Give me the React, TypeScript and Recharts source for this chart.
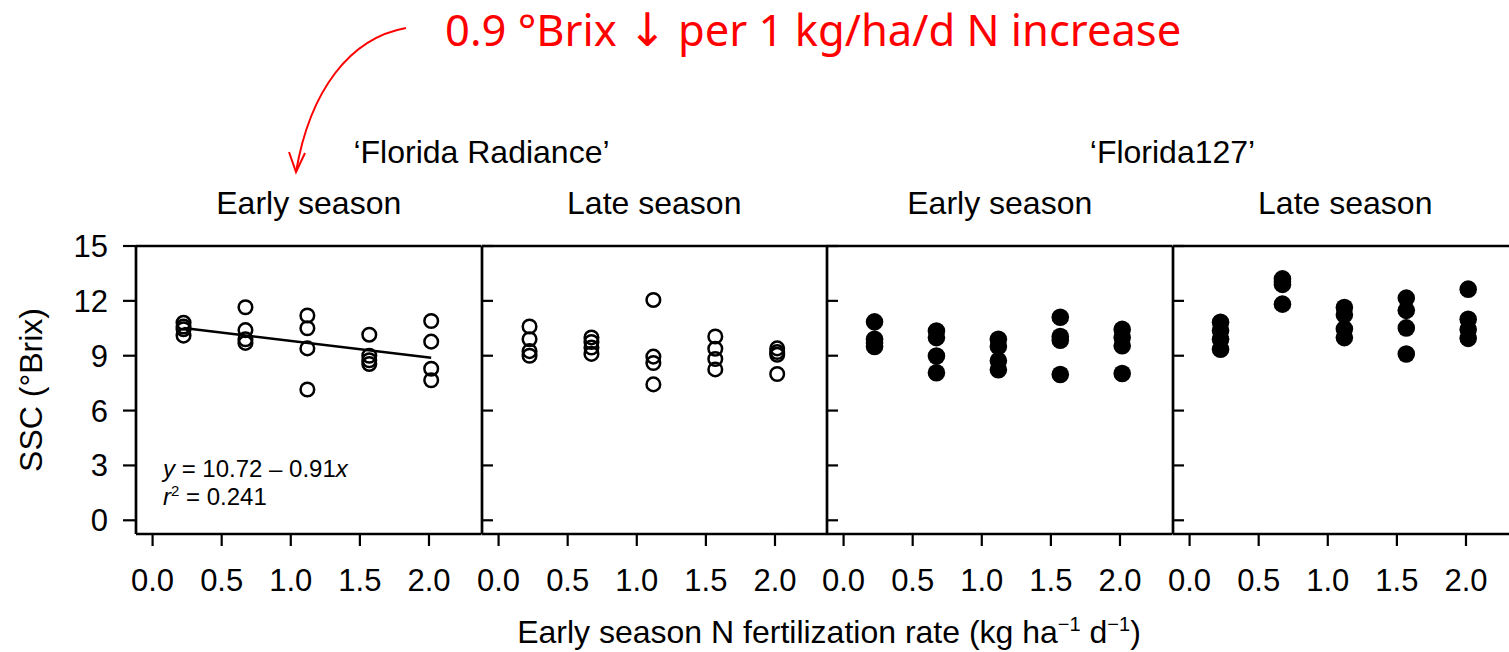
import React from 'react';
import { ScatterChart, Scatter, XAxis, YAxis, ReferenceLine } from 'recharts';

// N rates used in the trial (kg/ha/d)
const nRates = [0.224, 0.672, 1.12, 1.568, 2.016];
const xTicks = [0, 0.5, 1, 1.5, 2];
const yTicks = [0, 3, 6, 9, 12, 15];

// SSC (°Brix), one row per N rate, four reps each
const radianceEarly = [
  [10.8, 10.6, 10.45, 10.1],
  [11.65, 10.4, 9.9, 9.7],
  [11.2, 10.5, 9.4, 7.15],
  [10.15, 9.0, 8.75, 8.55],
  [10.9, 9.77, 8.29, 7.66],
];
const radianceLate = [
  [10.6, 9.9, 9.25, 9.0],
  [10.0, 9.75, 9.45, 9.1],
  [12.05, 8.95, 8.6, 7.43],
  [10.05, 9.38, 8.82, 8.25],
  [9.4, 9.2, 9.05, 8.0],
];
const f127Early = [
  [10.85, 9.9, 9.7, 9.5],
  [10.35, 9.99, 8.98, 8.07],
  [9.9, 9.5, 8.72, 8.23],
  [11.1, 10.05, 9.85, 7.97],
  [10.44, 10.0, 9.55, 8.03],
];
const f127Late = [
  [10.83, 10.38, 9.9, 9.35],
  [13.2, 13.05, 12.9, 11.82],
  [11.64, 11.24, 10.46, 9.99],
  [12.15, 11.48, 10.52, 9.09],
  [12.64, 10.99, 10.44, 9.95],
];

// fitted line for 'Florida Radiance' early season
const fitIntercept = 10.72;
const fitSlope = -0.91;

const FONT = '"Liberation Sans", Arial, sans-serif';
const PLOT_LEFT = 136;
const PANEL_W = 345.5;
const PLOT_TOP = 246;
const X_AXIS_H = 118;
const H = 652;
const Y_DOMAIN = [-0.75, 15];
const FRAME = 2.7;

const toPoints = (rows: number[][]) =>
  rows.flatMap((vals, i) => vals.map((y) => ({ x: nRates[i], y })));

const panels = [
  { season: 'Early season', rows: radianceEarly, filled: false, fit: true },
  { season: 'Late season', rows: radianceLate, filled: false, fit: false },
  { season: 'Early season', rows: f127Early, filled: true, fit: false },
  { season: 'Late season', rows: f127Late, filled: true, fit: false },
];

const XTick = ({ x, y, payload }: any) => (
  <text x={x} y={y + 45} textAnchor="middle" fontSize={31} fontFamily={FONT} fill="#000">
    {Number(payload.value).toFixed(1)}
  </text>
);

const InnerYTick = ({ x, y }: any) => (
  <line x1={x} x2={x + 11} y1={y} y2={y} stroke="#000" strokeWidth={2.2} />
);

const OpenDot = ({ cx, cy }: any) => (
  <circle cx={cx} cy={cy} r={6.8} fill="none" stroke="#000" strokeWidth={2.5} />
);
const FilledDot = ({ cx, cy }: any) => <circle cx={cx} cy={cy} r={8.8} fill="#000" />;

const Panel = ({ index }: { index: number }) => {
  const p = panels[index];
  const first = index === 0;
  const yWidth = first ? PLOT_LEFT : 10;
  const left = first ? 0 : PLOT_LEFT + PANEL_W * index - yWidth;
  const width = yWidth + PANEL_W + 6;
  const x0 = nRates[0];
  const x1 = nRates[nRates.length - 1];
  return (
    <div style={{ position: 'absolute', left, top: 0 }}>
      <ScatterChart
        width={width}
        height={H}
        margin={{ top: PLOT_TOP, right: 6, bottom: 0, left: 0 }}
      >
        <XAxis
          type="number"
          dataKey="x"
          domain={[-0.12, 2.38]}
          allowDataOverflow
          ticks={xTicks}
          interval={0}
          height={X_AXIS_H}
          axisLine={{ stroke: '#000', strokeWidth: FRAME }}
          tickLine={{ stroke: '#000', strokeWidth: 2.2 }}
          tickSize={12}
          tickMargin={0}
          tick={<XTick />}
        />
        {first ? (
          <YAxis
            type="number"
            dataKey="y"
            domain={Y_DOMAIN}
            allowDataOverflow
            ticks={yTicks}
            interval={0}
            width={yWidth}
            axisLine={{ stroke: '#000', strokeWidth: FRAME }}
            tickLine={{ stroke: '#000', strokeWidth: 2.2 }}
            tickSize={13}
            tickMargin={15}
            tick={{ fontSize: 31, fill: '#000', fontFamily: FONT }}
          />
        ) : (
          <YAxis
            type="number"
            dataKey="y"
            domain={Y_DOMAIN}
            allowDataOverflow
            ticks={yTicks}
            interval={0}
            width={yWidth}
            axisLine={{ stroke: '#000', strokeWidth: FRAME }}
            tickLine={false}
            tickSize={0}
            tickMargin={0}
            tick={<InnerYTick />}
          />
        )}
        <ReferenceLine y={15} stroke="#000" strokeWidth={FRAME} ifOverflow="visible" />
        {p.fit && (
          <ReferenceLine
            segment={[
              { x: x0, y: fitIntercept + fitSlope * x0 },
              { x: x1, y: fitIntercept + fitSlope * x1 },
            ]}
            stroke="#000"
            strokeWidth={2.4}
            ifOverflow="visible"
          />
        )}
        <Scatter
          data={toPoints(p.rows)}
          isAnimationActive={false}
          shape={p.filled ? <FilledDot /> : <OpenDot />}
        />
      </ScatterChart>
    </div>
  );
};

export default function App() {
  return (
    <div
      style={{
        position: 'absolute',
        left: 0,
        top: 0,
        width: 1509,
        height: H,
        overflow: 'hidden',
        background: '#fff',
        fontFamily: FONT,
      }}
    >
      {panels.map((_, i) => (
        <Panel key={i} index={i} />
      ))}
      <svg
        width={1509}
        height={H}
        style={{ position: 'absolute', left: 0, top: 0, pointerEvents: 'none' }}
        fontFamily={FONT}
      >
        <text
          x={445}
          y={46}
          fill="#ff0000"
          fontFamily='"Noto Sans", "Open Sans", sans-serif'
          fontSize={43.5}
        >
          0.9 °Brix{' '}
          <tspan fontFamily='"DejaVu Sans", sans-serif' fontSize={46}>↓</tspan> per 1 kg/ha/d N
          increase
        </text>
        <path d="M406,28 C350,38 310,90 296,172" fill="none" stroke="#ff0000" strokeWidth={2} />
        <path d="M289,152 L296,172 L305,153" fill="none" stroke="#ff0000" strokeWidth={2} />

        <text x={PLOT_LEFT + PANEL_W} y={163} textAnchor="middle" fontSize={32}>
          ‘Florida Radiance’
        </text>
        <text x={PLOT_LEFT + PANEL_W * 3} y={163} textAnchor="middle" fontSize={32}>
          ‘Florida127’
        </text>
        {panels.map((p, i) => (
          <text
            key={i}
            x={PLOT_LEFT + PANEL_W * (i + 0.5)}
            y={214}
            textAnchor="middle"
            fontSize={32}
          >
            {p.season}
          </text>
        ))}

        <text x={163} y={477} fontSize={24}>
          <tspan fontStyle="italic">y</tspan> = 10.72 – 0.91<tspan fontStyle="italic">x</tspan>
        </text>
        <text x={163} y={505} fontSize={24}>
          <tspan fontStyle="italic">r</tspan>
          <tspan fontSize={15} dy={-9}>2</tspan>
          <tspan dy={9}> = 0.241</tspan>
        </text>

        <text transform="translate(42,390) rotate(-90)" textAnchor="middle" fontSize={32}>
          SSC (°Brix)
        </text>
        <text x={829} y={643} textAnchor="middle" fontSize={32}>
          Early season N fertilization rate (kg ha
          <tspan fontSize={20} dy={-12}>−1</tspan>
          <tspan dy={12}> d</tspan>
          <tspan fontSize={20} dy={-12}>−1</tspan>
          <tspan dy={12}>)</tspan>
        </text>
      </svg>
    </div>
  );
}
